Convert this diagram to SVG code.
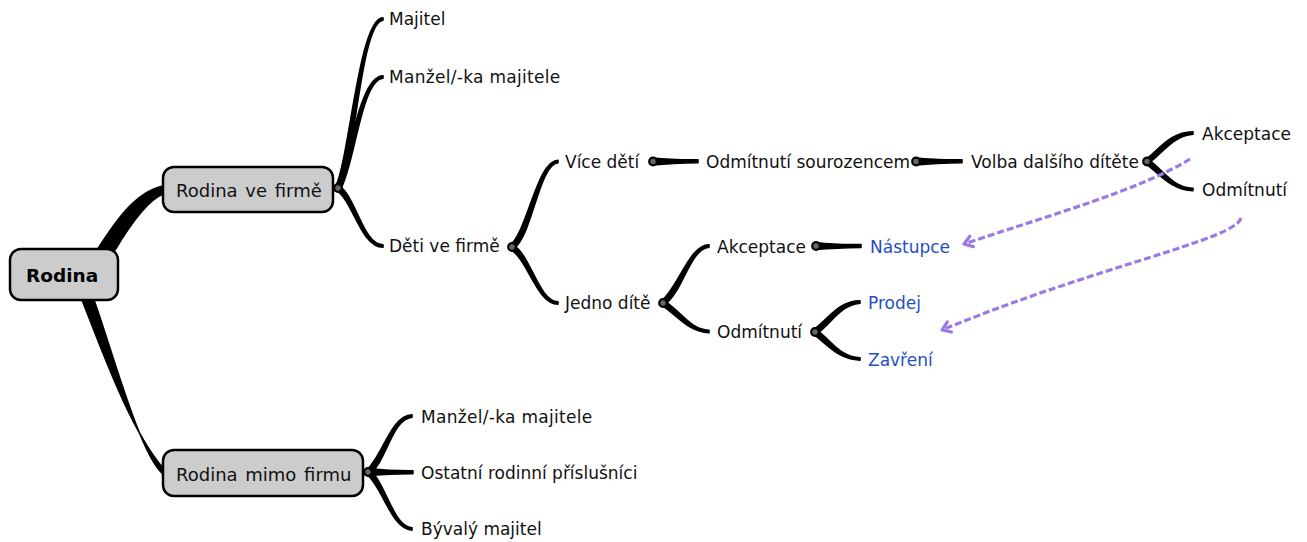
<svg xmlns="http://www.w3.org/2000/svg" width="1307" height="542" viewBox="0 0 1307 542">
<style>
text{font-family:"DejaVu Sans",Verdana,sans-serif;font-size:17px;fill:#111}
.root{font-size:18.5px;font-weight:bold;fill:#000}
.main{font-size:18px;word-spacing:2px}
.blue{fill:#1f4fc4}
.box{fill:#cccccc;stroke:#000;stroke-width:2.5}
.br{fill:#000;stroke:#000;stroke-width:1.6;stroke-linejoin:round}
.dot{fill:#666;stroke:#000;stroke-width:2.2}
.rel{fill:none;stroke:#9b7ae6;stroke-width:3.2;stroke-dasharray:7 3}
</style>
<defs>
<marker id="arr" markerUnits="userSpaceOnUse" viewBox="-12 -8 14 16" markerWidth="14" markerHeight="16" refX="0" refY="0" orient="auto">
<path d="M-8,-5.5 L0,0 L-8,5.5" fill="none" stroke="#9b7ae6" stroke-width="3.2" stroke-linecap="round" stroke-linejoin="round"/>
</marker>
</defs>
<g id="connectors">
<path class="br" d="M97,250 C115,222 135,192 163,186 L163,194 C148,200 130,225 115,250 Z"/>
<path class="br" d="M82,300 C100,345 130,430 163,468 L163,474 C140,455 112,350 94,300 Z"/>
<path class="br" d="M335.5,187 C349.5,159 359,17.8 383,17.8 L383,20.2 C361,22.2 354.5,161 340.5,189 Z"/>
<path class="br" d="M335.5,187 C349.5,164 359,75.8 383,75.8 L383,78.2 C361,80.2 354.5,166 340.5,189 Z"/>
<path class="br" d="M339.5,186 C356.5,198 363,244.8 383,244.8 L383,247.2 C361,247.2 353.5,202 336.5,190 Z"/>
<path class="br" d="M509.5,246 C527.5,232 537,160.3 558,160.3 L558,162.7 C539,164.7 532.5,234 514.5,248 Z"/>
<path class="br" d="M513.5,245 C531.5,257 539,301.8 558,301.8 L558,304.2 C537,304.2 528.5,261 510.5,249 Z"/>
<path class="br" d="M653,158 Q672,160 698,159.7 L698,162.7 Q672,163 653,165 Z"/>
<path class="br" d="M916,158 Q935,160 962,159.7 L962,162.7 Q935,163 916,165 Z"/>
<path class="br" d="M1145,160 C1159,150 1170,131.8 1193,131.8 L1193,134.2 C1172,136.2 1163,153 1149,163 Z"/>
<path class="br" d="M1149,160 C1163,170 1172,187.3 1193,188.3 L1193,190.7 C1170,189.7 1159,173 1145,163 Z"/>
<path class="br" d="M660.5,302 C678.5,288 689,244.8 709,244.8 L709,247.2 C690,249.2 683.5,290 665.5,304 Z"/>
<path class="br" d="M664.5,301 C682.5,313 690,329.3 709,330.3 L709,332.7 C688,331.7 679.5,317 661.5,305 Z"/>
<path class="br" d="M816,242.5 Q836,245 861,244.5 L861,247.5 Q836,248 816,249.5 Z"/>
<path class="br" d="M812.8,330.5 C828.8,318.5 839,300.8 860,300.8 L860,303.2 C840,305.2 833.2,321.5 817.2,333.5 Z"/>
<path class="br" d="M817.2,330.5 C833.2,342.5 840,356.8 860,357.8 L860,360.2 C838,359.2 828.8,345.5 812.8,333.5 Z"/>
<path class="br" d="M365.5,471 C381.5,459 391,414.8 412,414.8 L412,417.2 C392,419.2 386.5,461 370.5,473 Z"/>
<path class="br" d="M368,468.5 Q390,471 413,470.8 L413,473.6 Q390,473.5 368,475.5 Z"/>
<path class="br" d="M369.5,470 C385.5,482 393,526.8 412,527.8 L412,530.2 C391,529.2 382.5,486 366.5,474 Z"/>
<path class="rel" d="M1190,159 C1140,190 1050,215 964,244" marker-end="url(#arr)"/>
<path class="rel" d="M1241,218 C1235,240 1100,265 942,330" marker-end="url(#arr)"/>
</g>
<g id="n-rodina"><rect class="box" x="10" y="249" width="108" height="51" rx="11"/><text class="root" x="26" y="282">Rodina</text></g>
<g id="n-ve-firme"><rect class="box" x="163" y="167" width="170" height="45" rx="11"/><text class="main" x="176" y="197">Rodina ve firmě</text><circle class="dot" cx="338" cy="188" r="3.8"/></g>
<g id="n-mimo-firmu"><rect class="box" x="163" y="450" width="200" height="46" rx="11"/><text class="main" x="176" y="481">Rodina mimo firmu</text><circle class="dot" cx="368" cy="472" r="3.8"/></g>
<g id="n-majitel"><text x="389" y="25">Majitel</text></g>
<g id="n-manzel1"><text x="389" y="83" letter-spacing="0.3">Manžel/-ka majitele</text></g>
<g id="n-deti"><text x="389" y="252">Děti ve firmě</text><circle class="dot" cx="512" cy="247" r="3.8"/></g>
<g id="n-vice"><text x="565" y="168">Více dětí</text><circle class="dot" cx="653" cy="161.5" r="3.8"/></g>
<g id="n-odm-sour"><text x="706" y="168">Odmítnutí sourozencem</text><circle class="dot" cx="916" cy="161.5" r="3.8"/></g>
<g id="n-volba"><text x="971" y="168">Volba dalšího dítěte</text><circle class="dot" cx="1147" cy="161.5" r="3.8"/></g>
<g id="n-akc2"><text x="1202" y="140">Akceptace</text></g>
<g id="n-odm2"><text x="1202" y="196">Odmítnutí</text></g>
<g id="n-jedno"><text x="565" y="309">Jedno dítě</text><circle class="dot" cx="663" cy="303" r="3.8"/></g>
<g id="n-akc1"><text x="717" y="253">Akceptace</text><circle class="dot" cx="816" cy="246" r="3.8"/></g>
<g id="n-nastupce"><text class="blue" x="870" y="253">Nástupce</text></g>
<g id="n-odm1"><text x="717" y="338">Odmítnutí</text><circle class="dot" cx="815" cy="332" r="3.8"/></g>
<g id="n-prodej"><text class="blue" x="868" y="309">Prodej</text></g>
<g id="n-zavreni"><text class="blue" x="868" y="366">Zavření</text></g>
<g id="n-manzel2"><text x="421" y="423" letter-spacing="0.3">Manžel/-ka majitele</text></g>
<g id="n-ostatni"><text x="421" y="479">Ostatní rodinní příslušníci</text></g>
<g id="n-byvaly"><text x="421" y="535">Bývalý majitel</text></g>
</svg>
